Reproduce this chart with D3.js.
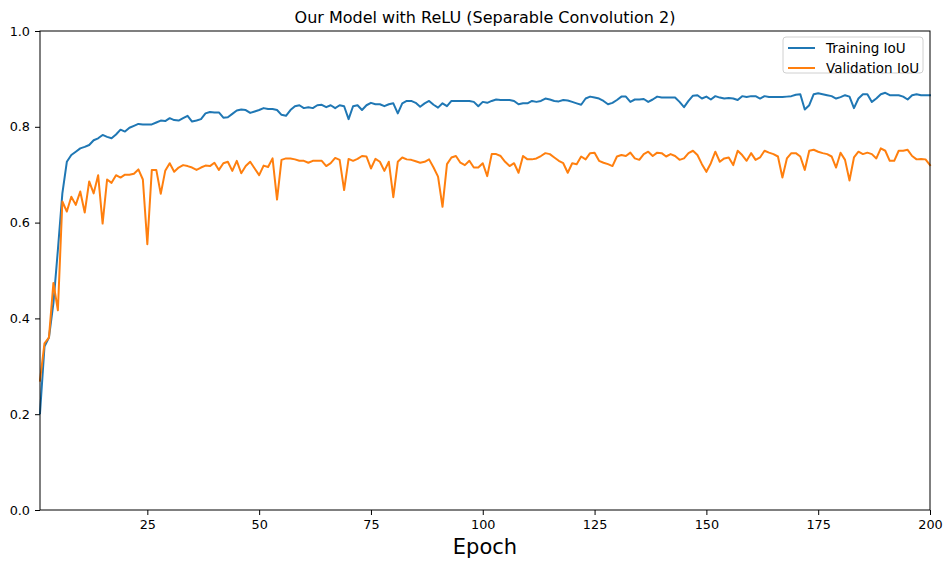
<!DOCTYPE html>
<html>
<head>
<meta charset="utf-8">
<script src="https://cdn.jsdelivr.net/npm/d3@7"></script>
<style>
  html, body { margin: 0; padding: 0; background: #fff; }
  svg { display: block; font-family: "DejaVu Sans", sans-serif; }
</style>
</head>
<body>
<svg id="chart" width="943" height="561"></svg>
<script>
// Per-epoch IoU for the separable-convolution model with ReLU
const trainIoU = [
  0.202, 0.341, 0.360, 0.432, 0.543, 0.661, 0.727, 0.741, 0.748, 0.755,
  0.758, 0.762, 0.772, 0.776, 0.783, 0.779, 0.776, 0.784, 0.794, 0.790,
  0.798, 0.802, 0.806, 0.805, 0.805, 0.805, 0.809, 0.813, 0.812, 0.818,
  0.814, 0.813, 0.818, 0.823, 0.811, 0.813, 0.816, 0.828, 0.831, 0.830,
  0.830, 0.819, 0.820, 0.827, 0.834, 0.836, 0.835, 0.829, 0.832, 0.835,
  0.839, 0.837, 0.837, 0.835, 0.825, 0.823, 0.835, 0.843, 0.845, 0.839,
  0.841, 0.839, 0.845, 0.846, 0.841, 0.845, 0.839, 0.845, 0.843, 0.816,
  0.843, 0.845, 0.835, 0.845, 0.850, 0.847, 0.847, 0.843, 0.847, 0.849,
  0.828, 0.849, 0.854, 0.854, 0.850, 0.842, 0.849, 0.854, 0.846, 0.840,
  0.849, 0.843, 0.854, 0.854, 0.854, 0.854, 0.854, 0.852, 0.843, 0.852,
  0.850, 0.854, 0.857, 0.856, 0.856, 0.856, 0.854, 0.847, 0.849, 0.849,
  0.854, 0.852, 0.854, 0.859, 0.857, 0.854, 0.853, 0.856, 0.855, 0.852,
  0.849, 0.846, 0.859, 0.863, 0.861, 0.859, 0.854, 0.847, 0.850, 0.856,
  0.863, 0.863, 0.852, 0.857, 0.857, 0.858, 0.852, 0.857, 0.863, 0.861,
  0.861, 0.861, 0.861, 0.852, 0.841, 0.854, 0.865, 0.866, 0.859, 0.863,
  0.857, 0.864, 0.861, 0.859, 0.860, 0.859, 0.856, 0.864, 0.862, 0.864,
  0.864, 0.859, 0.864, 0.862, 0.862, 0.862, 0.862, 0.863, 0.864, 0.867,
  0.868, 0.836, 0.845, 0.868, 0.870, 0.868, 0.866, 0.864, 0.859, 0.862,
  0.866, 0.863, 0.839, 0.859, 0.868, 0.868, 0.852, 0.859, 0.868, 0.871,
  0.866, 0.866, 0.866, 0.863, 0.857, 0.866, 0.868, 0.866, 0.866, 0.866
];

const valIoU = [
  0.270, 0.348, 0.360, 0.474, 0.417, 0.644, 0.623, 0.654, 0.637, 0.665,
  0.621, 0.686, 0.661, 0.699, 0.598, 0.690, 0.683, 0.699, 0.694, 0.700,
  0.700, 0.702, 0.711, 0.690, 0.555, 0.710, 0.710, 0.660, 0.708, 0.724,
  0.706, 0.715, 0.720, 0.718, 0.715, 0.710, 0.715, 0.719, 0.718, 0.725,
  0.710, 0.724, 0.727, 0.708, 0.729, 0.703, 0.718, 0.727, 0.713, 0.699,
  0.719, 0.716, 0.734, 0.648, 0.731, 0.734, 0.734, 0.732, 0.729, 0.729,
  0.725, 0.729, 0.729, 0.729, 0.718, 0.724, 0.735, 0.731, 0.668, 0.733,
  0.729, 0.733, 0.739, 0.738, 0.713, 0.733, 0.727, 0.708, 0.727, 0.653,
  0.727, 0.736, 0.732, 0.731, 0.728, 0.725, 0.727, 0.732, 0.715, 0.696,
  0.633, 0.722, 0.736, 0.739, 0.725, 0.720, 0.729, 0.715, 0.715, 0.724,
  0.697, 0.743, 0.743, 0.739, 0.727, 0.718, 0.724, 0.704, 0.739, 0.732,
  0.732, 0.734, 0.739, 0.745, 0.743, 0.736, 0.729, 0.724, 0.704, 0.724,
  0.722, 0.738, 0.732, 0.745, 0.746, 0.729, 0.725, 0.722, 0.718, 0.738,
  0.741, 0.739, 0.746, 0.734, 0.731, 0.743, 0.748, 0.739, 0.746, 0.745,
  0.738, 0.743, 0.739, 0.731, 0.734, 0.745, 0.750, 0.741, 0.722, 0.706,
  0.724, 0.748, 0.727, 0.734, 0.736, 0.720, 0.750, 0.741, 0.729, 0.745,
  0.731, 0.736, 0.750, 0.746, 0.743, 0.738, 0.694, 0.734, 0.745, 0.745,
  0.738, 0.710, 0.750, 0.752, 0.748, 0.745, 0.743, 0.738, 0.715, 0.746,
  0.731, 0.688, 0.736, 0.748, 0.743, 0.746, 0.743, 0.734, 0.755, 0.750,
  0.729, 0.729, 0.750, 0.750, 0.752, 0.739, 0.732, 0.733, 0.732, 0.720
];

const epochs = d3.range(1, trainIoU.length + 1);
const xTicks = [25, 50, 75, 100, 125, 150, 175, 200];
const yTicks = [0.0, 0.2, 0.4, 0.6, 0.8, 1.0];
const seriesNames = ["Training IoU", "Validation IoU"];
const seriesColors = ["#1f77b4", "#ff7f0e"];
const chartTitle = "Our Model with ReLU (Separable Convolution 2)";
const xLabel = "Epoch";

const svg = d3.select("#chart");
const plot = { left: 40, top: 31, right: 930, bottom: 510 };

const x = d3.scaleLinear().domain([1, 200]).range([plot.left, plot.right]);
const y = d3.scaleLinear().domain([0, 1]).range([plot.bottom, plot.top]);

// Axes
const xAxis = svg.append("g")
  .attr("transform", `translate(0,${plot.bottom})`)
  .call(d3.axisBottom(x).tickValues(xTicks).tickSize(5).tickPadding(5).tickFormat(d3.format("d")));
const yAxis = svg.append("g")
  .attr("transform", `translate(${plot.left},0)`)
  .call(d3.axisLeft(y).tickValues(yTicks).tickSize(5).tickPadding(5).tickFormat(d3.format(".1f")));

[xAxis, yAxis].forEach(g => {
  g.select(".domain").remove();
  g.selectAll(".tick line").attr("stroke", "#000").attr("stroke-width", 1);
  g.selectAll(".tick text")
    .attr("fill", "#000")
    .style("font-family", "'DejaVu Sans', sans-serif")
    .style("font-size", "12.8px");
});

// Lines
const line = d3.line().x((d, i) => x(epochs[i])).y(d => y(d));
[trainIoU, valIoU].forEach((series, k) => {
  svg.append("path")
    .datum(series)
    .attr("fill", "none")
    .attr("stroke", seriesColors[k])
    .attr("stroke-width", 2)
    .attr("stroke-linejoin", "round")
    .attr("stroke-linecap", "square")
    .attr("d", line);
});

// Frame
svg.append("rect")
  .attr("x", plot.left).attr("y", plot.top)
  .attr("width", plot.right - plot.left).attr("height", plot.bottom - plot.top)
  .attr("fill", "none").attr("stroke", "#000").attr("stroke-width", 1);

// Title and axis label
svg.append("text")
  .attr("x", (plot.left + plot.right) / 2).attr("y", 23)
  .attr("text-anchor", "middle")
  .style("font-size", "16px")
  .text(chartTitle);

svg.append("text")
  .attr("x", (plot.left + plot.right) / 2).attr("y", 554)
  .attr("text-anchor", "middle")
  .style("font-size", "21px")
  .text(xLabel);

// Legend
const legend = svg.append("g").attr("transform", "translate(783,37)");
legend.append("rect")
  .attr("width", 140).attr("height", 36).attr("rx", 3)
  .attr("fill", "#fff").attr("fill-opacity", 0.8)
  .attr("stroke", "#d0d0d0").attr("stroke-width", 1);
seriesNames.forEach((name, i) => {
  const yy = 11 + i * 20;
  legend.append("line")
    .attr("x1", 5).attr("x2", 32).attr("y1", yy).attr("y2", yy)
    .attr("stroke", seriesColors[i]).attr("stroke-width", 2);
  legend.append("text")
    .attr("x", 43).attr("y", yy).attr("dy", "0.35em")
    .style("font-size", "13.5px")
    .text(name);
});
</script>
</body>
</html>
